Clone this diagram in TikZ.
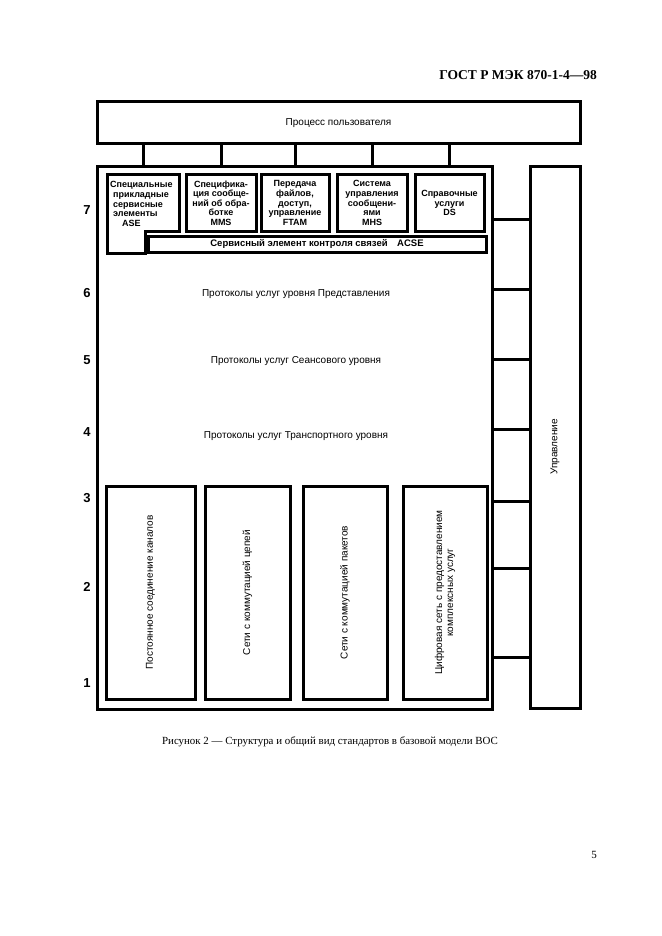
\documentclass[tikz,border=0pt]{standalone}
\usepackage{fontspec}
\setmainfont{Liberation Sans}
\newfontfamily\seriffont{Liberation Serif}
\begin{document}
\begin{tikzpicture}[x=1pt,y=-1pt,
  ln/.style={line width=3pt},
  bx/.style={draw,line width=3pt,inner sep=0pt},
  sm/.style={font=\bfseries\fontsize{9}{9.6}\selectfont,align=center,inner sep=0pt},
  md/.style={font=\fontsize{10}{11}\selectfont,align=center,inner sep=0pt},
  lvl/.style={font=\bfseries\fontsize{13}{14}\selectfont,inner sep=0pt}]
\useasboundingbox (0,0) rectangle (661,936);
% header
\node[font=\seriffont\bfseries\fontsize{13.5}{15}\selectfont,anchor=east,inner sep=0pt] (hdr) at (597,75) {ГОСТ Р МЭК 870-1-4—98};
% main boxes
\node[bx,minimum width=483pt,minimum height=42pt,md] (user) at (338.5,123) {Процесс пользователя};
\node[bx,minimum width=395pt,minimum height=542pt] (main) at (294.5,438) {};
\node[bx,minimum width=50pt,minimum height=541pt] (ctrl) at (555,437.5) {};
\node[md,rotate=90] (ctrltxt) at (555,447) {Управление};
% layer 7
\draw[ln] (107,175) -- (179,175) -- (179,231) -- (145,231) -- (145,253) -- (107,253) -- cycle;
\coordinate (asex) at (143,175);
\node[sm,align=left,anchor=west] (ase) at (110,204) {Специальные\\\hspace*{3pt}прикладные\\\hspace*{3pt}сервисные\\\hspace*{3pt}элементы\\\hspace*{12pt}ASE};
\node[bx,minimum width=70pt,minimum height=56pt,sm] (mms) at (221,203) {Специфика-\\ция сообще-\\ний об обра-\\ботке\\MMS};
\node[bx,minimum width=68pt,minimum height=56pt,sm] (ftam) at (295,203) {Передача\\файлов,\\доступ,\\управление\\FTAM};
\node[bx,minimum width=70pt,minimum height=56pt,sm] (mhs) at (372,203) {Система\\управления\\сообщени-\\ями\\MHS};
\node[bx,minimum width=69pt,minimum height=56pt,sm] (ds) at (449.5,203) {Справочные\\услуги\\DS};
\node[bx,minimum width=338pt,minimum height=16pt,sm,font=\bfseries\fontsize{9.5}{10}\selectfont] (acse) at (317,244) {Сервисный элемент контроля связей\quad ACSE};
% connectors user -> main
\foreach \n in {asex,mms,ftam,mhs,ds}{
  \draw[ln] (user.south -| \n) -- (main.north -| \n);
}
% connectors main -> control
\foreach \yy in {219,289,359,429,501,568,657}{
  \coordinate (r\yy) at (0,\yy);
  \draw[ln] (main.east |- r\yy) -- (ctrl.west |- r\yy);
}
% levels 6-4
\node[md] (l6) at (296,294) {Протоколы услуг уровня Представления};
\node[md] (l5) at (296,361) {Протоколы услуг Сеансового уровня};
\node[md] (l4) at (296,436) {Протоколы услуг Транспортного уровня};
% bottom boxes
\node[bx,minimum width=89pt,minimum height=213pt] (b1) at (150.5,592.5) {};
\node[bx,minimum width=85pt,minimum height=213pt] (b2) at (247.5,592.5) {};
\node[bx,minimum width=84pt,minimum height=213pt] (b3) at (345,592.5) {};
\node[bx,minimum width=84pt,minimum height=213pt] (b4) at (445,592.5) {};
\node[md,rotate=90] (t1) at (b1.center) {Постоянное соединение каналов};
\node[md,rotate=90] (t2) at (b2.center) {Сети с коммутацией цепей};
\node[md,rotate=90] (t3) at (b3.center) {Сети с коммутацией пакетов};
\node[md,rotate=90] (t4) at (b4.center) {Цифровая сеть с предоставлением\\комплексных услуг};
% level numbers
\node[lvl] (n7) at (87,210) {7};
\node[lvl] (n6) at (87,293) {6};
\node[lvl] (n5) at (87,360) {5};
\node[lvl] (n4) at (87,432) {4};
\node[lvl] (n3) at (87,498) {3};
\node[lvl] (n2) at (87,587) {2};
\node[lvl] (n1) at (87,683) {1};
% caption
\node[font=\seriffont\fontsize{10.9}{12}\selectfont,inner sep=0pt] (cap) at (330,742) {Рисунок 2 — Структура и общий вид стандартов в базовой модели ВОС};
\node[font=\seriffont\fontsize{11}{12}\selectfont,inner sep=0pt] (pg) at (594,855) {5};
\end{tikzpicture}
\end{document}
